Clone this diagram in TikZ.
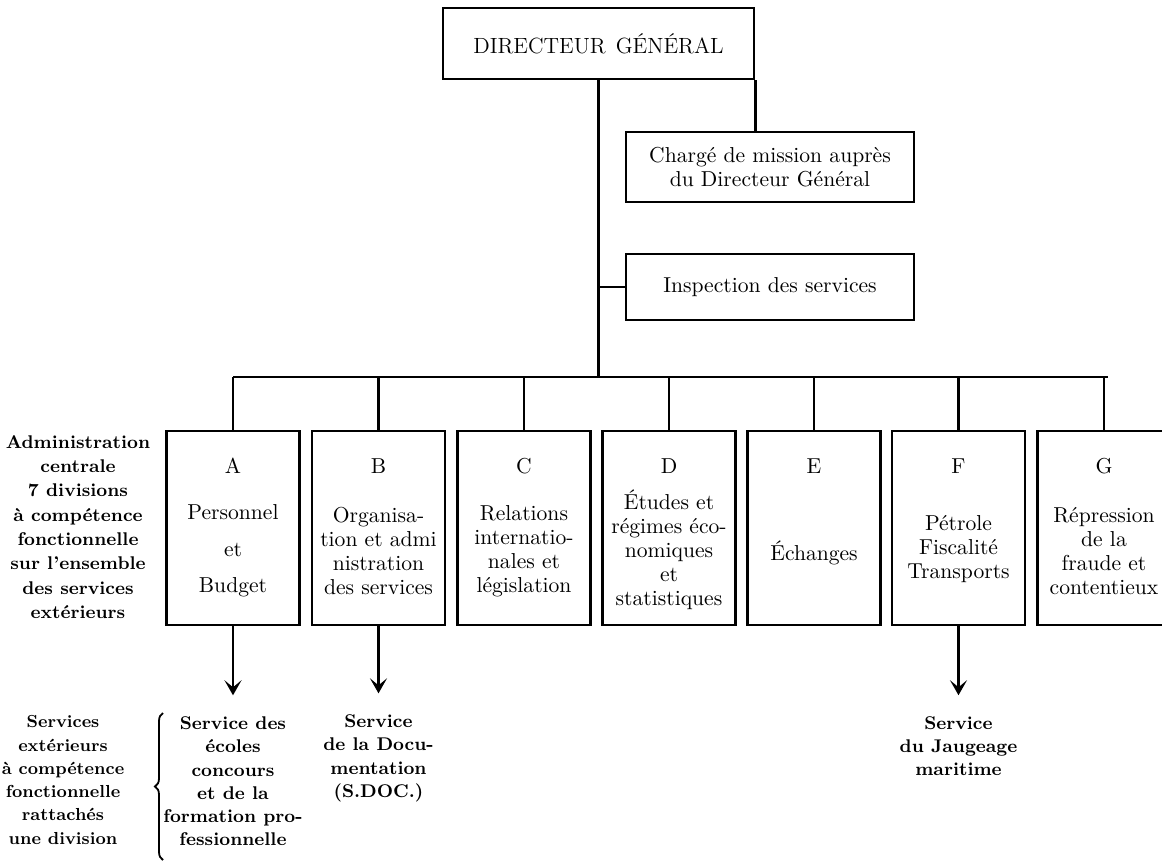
\documentclass[tikz,border=0pt]{standalone}
\usepackage{fontspec}
\usetikzlibrary{arrows.meta,decorations.pathreplacing,calc}
\begin{document}
\begin{tikzpicture}[x=0.5pt,y=-0.5pt,line width=1.3pt,
  office/.style={draw,rectangle,align=center,inner sep=0pt,
    font=\fontsize{10.8}{12}\selectfont},
  division/.style={draw,rectangle,inner sep=0pt,
    minimum width=66.5pt,minimum height=97pt},
  divtext/.style={align=center,inner sep=0pt,
    font=\fontsize{10.8}{12}\selectfont},
  label/.style={align=center,inner sep=0pt,
    font=\bfseries\fontsize{9.2}{11.65}\selectfont},
  down/.style={-{Stealth[length=7.5pt,width=8.5pt,inset=3.5pt]},shorten >=10pt},
  brace/.style={decorate,decoration={brace,amplitude=4pt},line width=0.9pt}]

\useasboundingbox (0,0) rectangle (1162,862);
\clip (0,0) rectangle (1162,862);

% head of the administration and its staff services
\node[office,minimum width=155.5pt,minimum height=35.5pt] (dg) at (598.5,43.5)
  {\fontsize{11}{12}\selectfont DIRECTEUR\hspace{5pt}GÉNÉRAL};
\node[office,minimum width=144pt,minimum height=35pt] (charge) at (770,167)
  {Chargé de mission auprès\\du Directeur Général};
\node[office,minimum width=144pt,minimum height=33pt] (insp) at (770,287)
  {Inspection des services};

% the seven divisions
\coordinate (busy) at (0,377);
\node[division] (A) at (233,528) {};
\node[division] (B) at (378.5,528) {};
\node[division] (C) at (524,528) {};
\node[division] (D) at (669,528) {};
\node[division] (E) at (814,528) {};
\node[division] (F) at (958.5,528) {};
\node[division] (G) at (1104,528) {};
\coordinate (busR) at (1108,377);

\foreach \d in {A,B,C,D,E,F,G}
  \node[divtext] (\d-l) at ($(\d.north)+(0,36)$) {\d};

\node[divtext] (A-t) at ($(A.center)+(0,23)$) {Personnel\\[6.3pt]et\\[6.3pt]Budget};
\node[divtext] (B-t) at ($(B.center)+(0,23)$) {Organisa-\\tion et admi\\nistration\\des services};
\node[divtext] (C-t) at ($(C.center)+(0,23)$) {Relations\\internatio-\\nales et\\législation};
\node[divtext] (D-t) at ($(D.center)+(0,22)$) {Études et\\régimes éco-\\nomiques\\et\\statistiques};
\node[divtext] (E-t) at ($(E.center)+(0,25)$) {Échanges};
\node[divtext] (F-t) at ($(F.center)+(0,21)$) {Pétrole\\Fiscalité\\Transports};
\node[divtext] (G-t) at ($(G.center)+(0,23)$) {Répression\\de la\\fraude et\\contentieux};

% side captions
\node[label,font=\bfseries\fontsize{9.2}{12.15}\selectfont] (central) at (78,527)
  {Administration\\centrale\\7 divisions\\à compétence\\fonctionnelle\\sur l'ensemble\\des services\\extérieurs};
\node[label,font=\bfseries\fontsize{8.7}{11.65}\selectfont] (ext) at (63,780)
  {Services\\extérieurs\\à compétence\\fonctionnelle\\rattachés\\une division};

% external services attached to a division
\node[label] (A-s) at ($(A.south)+(0,155)$)
  {Service des\\écoles\\concours\\et de la\\formation pro-\\fessionnelle};
\node[label] (B-s) at ($(B.south)+(0,132)$)
  {Service\\de la Docu-\\mentation\\(S.DOC.)};
\node[label] (F-s) at ($(F.south)+(0,120)$)
  {Service\\du Jaugeage\\maritime};

% connectors
\draw (dg.south) -- (dg.south |- busy);
\draw (dg.south east) -- (dg.south east |- charge.north);
\draw (dg.south |- insp.west) -- (insp.west);
\draw (A.north |- busy) -- (busR);
\foreach \d in {A,B,C,D,E,F,G}
  \draw (\d.north |- busy) -- (\d.north);

\draw[down] (A.south) -- (A-s.north);
\draw[down] (B.south) -- (B-s.north);
\draw[down] (F.south) -- (F-s.north);

\draw[brace] (163,860) -- (163,713);
\end{tikzpicture}
\end{document}
